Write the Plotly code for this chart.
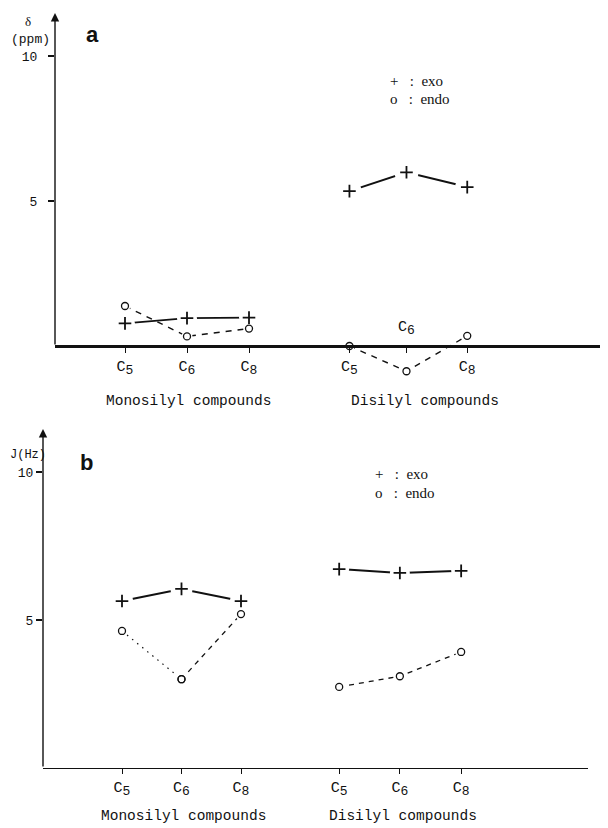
import plotly.graph_objects as go

# page is 608x828, the html body adds an 8px margin, so the figure is 600x820
OFF = 8
W, H = 600, 820

# ---------------- data ----------------
categories = ["C5", "C6", "C8"]
subscripts = ["5", "6", "8"]
groups = ["Monosilyl compounds", "Disilyl compounds"]

# panel a : chemical shift delta (ppm)
a_mono_exo = [0.78, 0.96, 0.98]
a_mono_endo = [1.38, 0.33, 0.60]
a_di_exo = [5.34, 5.99, 5.48]
a_di_endo = [0.00, -0.87, 0.35]

# panel b : coupling constant J (Hz)
b_mono_exo = [5.64, 6.05, 5.64]
b_mono_endo = [4.63, 3.00, 5.20]
b_di_exo = [6.72, 6.59, 6.66]
b_di_endo = [2.74, 3.10, 3.92]

y_ticks = [5, 10]

# ---------------- layout geometry (page pixels) ----------------
MONO = "Liberation Mono"
SERIF = "Liberation Serif"
SANS = "Liberation Sans"
INK = "#111111"


def px(x):
    return (x - OFF) / W


def py(y):
    return 1 - (y - OFF) / H


def ctext(sub, size=13):
    return "C<sub><span style='font-size:%dpx'>%s</span></sub>" % (size, sub)


tick_labels = [ctext(s) for s in subscripts]

# category positions along the x axes
pos_mono = [1, 2, 3]
pos_di_a = [4.62, 5.54, 6.52]
pos_di_b = [4.65, 5.67, 6.70]

A = dict(x_axis=55, x_end=605, c5=125, unit_x=62.0,
         y_zero=346, unit_y=29.0, y_top=13, y_bot=392)
B = dict(x_axis=43, x_end=588, c5=122, unit_x=59.5,
         y_zero=768, unit_y=29.6, y_top=429, y_bot=775)


def xr(g):
    return [1 - (g["c5"] - g["x_axis"]) / g["unit_x"],
            1 + (g["x_end"] - g["c5"]) / g["unit_x"]]


def yr(g):
    return [-(g["y_bot"] - g["y_zero"]) / g["unit_y"],
            (g["y_zero"] - g["y_top"]) / g["unit_y"]]


fig = go.Figure()
marks = []


def series(xs, ys, xa, ya, dash, width, mask, symbol, msize, mline):
    fig.add_trace(go.Scatter(
        x=xs, y=ys, xaxis=xa, yaxis=ya, mode="lines+markers",
        line=dict(color=INK, width=width, dash=dash),
        marker=dict(color="white", size=mask, opacity=1,
                    line=dict(width=0, color="white")),
        showlegend=False, hoverinfo="skip", cliponaxis=False))
    marks.append((xs, ys, xa, ya, symbol, msize, mline))


# panel a
series(pos_mono, a_mono_exo, "x", "y", "solid", 1.8, 20, "cross-thin", 9, 1.8)
series(pos_mono, a_mono_endo, "x", "y", "6px,6px", 1.4, 11, "circle-open", 7, 1.3)
series(pos_di_a, a_di_exo, "x", "y", "solid", 2.0, 24, "cross-thin", 9, 1.8)
series(pos_di_a, a_di_endo, "x", "y", "6px,6px", 1.4, 11, "circle-open", 7, 1.3)
# panel b
series(pos_mono, b_mono_exo, "x2", "y2", "solid", 2.0, 22, "cross-thin", 9, 1.8)
series(pos_mono[:2], b_mono_endo[:2], "x2", "y2", "1.5px,5px", 1.2, 12, "circle-open", 7, 1.3)
series(pos_mono[1:], b_mono_endo[1:], "x2", "y2", "5px,5px", 1.3, 12, "circle-open", 7, 1.3)
series(pos_di_b, b_di_exo, "x2", "y2", "solid", 2.0, 20, "cross-thin", 9, 1.8)
series(pos_di_b, b_di_endo, "x2", "y2", "5px,5px", 1.3, 12, "circle-open", 7, 1.3)

for xs, ys, xa, ya, symbol, msize, mline in marks:
    fig.add_trace(go.Scatter(
        x=xs, y=ys, xaxis=xa, yaxis=ya, mode="markers",
        marker=dict(symbol=symbol, size=msize, color=INK,
                    line=dict(color=INK, width=mline)),
        showlegend=False, hoverinfo="skip", cliponaxis=False))

tick_a = [tick_labels[0], tick_labels[1], tick_labels[2], tick_labels[0], "", tick_labels[2]]
tick_b = tick_labels + tick_labels

common_x = dict(showgrid=False, zeroline=False, showline=True, linecolor=INK,
                ticks="outside", ticklen=5, tickwidth=1.3, tickcolor=INK,
                tickfont=dict(family=MONO, size=15, color=INK),
                anchor="free", automargin=False, fixedrange=True)
common_y = dict(showgrid=False, zeroline=False, showline=False,
                ticks="outside", ticklen=6, tickwidth=1.5, tickcolor=INK,
                tickvals=y_ticks, ticktext=[str(v) for v in y_ticks],
                tickfont=dict(family=MONO, size=13, color=INK),
                automargin=False, fixedrange=True)

fig.update_layout(
    width=W, height=H, margin=dict(l=0, r=0, t=0, b=0),
    paper_bgcolor="white", plot_bgcolor="white",
    xaxis=dict(common_x, domain=[px(A["x_axis"]), px(A["x_end"])], range=xr(A),
               position=py(A["y_zero"]), linewidth=2.6,
               tickvals=pos_mono + pos_di_a, ticktext=tick_a),
    yaxis=dict(common_y, domain=[py(A["y_bot"]), py(A["y_top"])], range=yr(A),
               anchor="x", ticklabelstandoff=8),
    xaxis2=dict(common_x, domain=[px(B["x_axis"]), px(B["x_end"])], range=xr(B),
                position=py(B["y_zero"]), linewidth=1.2,
                tickvals=pos_mono + pos_di_b, ticktext=tick_b),
    yaxis2=dict(common_y, domain=[py(B["y_bot"]), py(B["y_top"])], range=yr(B),
                anchor="x2"),
)

ann = []
# vertical axes drawn as arrows
for xa, ya, g in (("x", "y", A), ("x2", "y2", B)):
    ann.append(dict(xref=xa, yref=ya, x=xr(g)[0], y=yr(g)[1],
                    axref=xa, ayref=ya, ax=xr(g)[0], ay=0,
                    showarrow=True, arrowhead=2, arrowsize=1.2, arrowwidth=1.4,
                    arrowcolor=INK, text=""))

# C6 label of the disilyl compounds (panel a) sits above the axis
ann.append(dict(xref="x", yref="y", x=pos_di_a[1], y=0, yshift=18,
                text=tick_labels[1], showarrow=False,
                font=dict(family=MONO, size=15, color=INK)))


def label(x, y, text, font, size, xanchor="center", bold=False):
    ann.append(dict(xref="paper", yref="paper", x=px(x), y=py(y),
                    text=("<b>%s</b>" % text) if bold else text,
                    showarrow=False, xanchor=xanchor, yanchor="middle",
                    font=dict(family=font, size=size, color=INK)))


# group labels
label(188, 401, groups[0], MONO, 14.5)
label(425, 401, groups[1], MONO, 14.5)
label(183, 816, groups[0], MONO, 14.5)
label(403, 816, groups[1], MONO, 14.5)

# axis titles
label(28, 21, "δ", SERIF, 13)
label(30, 39, "(ppm)", MONO, 13)
label(OFF, 455, "J(Hz)", MONO, 12, xanchor="left")

# panel letters
label(92, 34, "a", SANS, 22, bold=True)
label(86, 462, "b", SANS, 22, bold=True)

# key
nb = "\u00a0"
label(388, 81, "+" + nb * 3 + ":" + nb * 2 + "exo", SERIF, 15, xanchor="left")
label(388, 99, "o" + nb * 3 + ":" + nb * 2 + "endo", SERIF, 15, xanchor="left")
label(373, 474, "+" + nb * 3 + ":" + nb * 2 + "exo", SERIF, 15, xanchor="left")
label(373, 493, "o" + nb * 3 + ":" + nb * 2 + "endo", SERIF, 15, xanchor="left")

fig.update_layout(annotations=ann)

fig.write_html("out.html")
